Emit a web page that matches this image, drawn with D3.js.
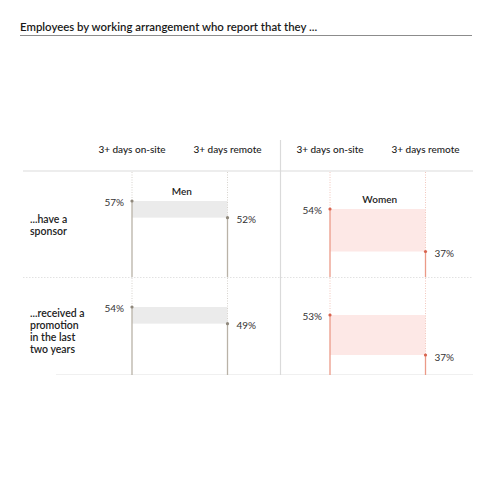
<!DOCTYPE html>
<html>
<head>
<meta charset="utf-8">
<script src="https://cdn.jsdelivr.net/npm/d3@7"></script>
<style>
  html, body { margin: 0; padding: 0; background: #fff; }
  svg { display: block; font-family: Lato, "Open Sans", sans-serif; }
</style>
</head>
<body>
<svg id="chart" width="500" height="500"></svg>
<script>
const title = "Employees by working arrangement who report that they ...";
const categories = ["sponsor", "promotion"];
const categoryLabels = [["...have a", "sponsor"], ["...received a", "promotion", "in the last", "two years"]];
const groups = ["Men", "Women"];
const arrangements = ["3+ days on-site", "3+ days remote"];
const menOnSite = [57, 54];
const menRemote = [52, 49];
const womenOnSite = [54, 53];
const womenRemote = [37, 37];

const values = { Men: [menOnSite, menRemote], Women: [womenOnSite, womenRemote] };
const style = {
  Men:   { line: "#b9b2a7", dot: "#8f887c", dotted: "#d6d2cc", fill: "#ebebeb", px: 3.33, off: 30 },
  Women: { line: "#eb9a88", dot: "#d8644f", dotted: "#f2c6bc", fill: "#fde8e6", px: 2.5,  off: 38 }
};

const svg = d3.select("#chart");

// title
svg.append("text").attr("x", 20).attr("y", 31)
  .attr("font-size", 11.4).attr("font-weight", 600).attr("fill", "#1a1a1a").text(title);
svg.append("line").attr("x1", 20).attr("x2", 472).attr("y1", 35.5).attr("y2", 35.5)
  .attr("stroke", "#8c8c8c").attr("stroke-width", 1);

// scales
const gx = d3.scalePoint().domain(groups).range([132, 330]);
const ax = d3.scalePoint().domain(arrangements).range([0, 95.5]);
const rowTop = d3.scaleOrdinal().domain(categories).range([171, 277]);
const rowBottom = d3.scaleOrdinal().domain(categories).range([277, 375]);

// grid
svg.append("line").attr("x1", 23).attr("x2", 473).attr("y1", 171).attr("y2", 171)
  .attr("stroke", "#dcdcdc").attr("stroke-width", 1.2);
svg.append("line").attr("x1", 23).attr("x2", 473).attr("y1", rowBottom(categories[0]) + 0.5).attr("y2", rowBottom(categories[0]) + 0.5)
  .attr("stroke", "#e2e2e2").attr("stroke-dasharray", "1.5,1.5");
svg.append("line").attr("x1", 56).attr("x2", 473).attr("y1", rowBottom(categories[1]) - 0.5).attr("y2", rowBottom(categories[1]) - 0.5)
  .attr("stroke", "#f0f0f0");
svg.append("line").attr("x1", 280.5).attr("x2", 280.5).attr("y1", 140).attr("y2", 375)
  .attr("stroke", "#dadada").attr("stroke-width", 1.2);

// headers
groups.forEach(g => {
  arrangements.forEach(a => {
    svg.append("text").attr("x", gx(g) + ax(a)).attr("y", 152.5)
      .attr("text-anchor", "middle").attr("font-size", 10).attr("font-weight", 500)
      .attr("fill", "#222").text(a);
  });
});

// row labels
categories.forEach((c, i) => {
  const lines = categoryLabels[i];
  const t = svg.append("text").attr("x", 30).attr("font-size", 10.5).attr("font-weight", 600).attr("fill", "#222");
  const y0 = i === 0 ? 223 : 317;
  lines.forEach((l, j) => t.append("tspan").attr("x", 30).attr("y", y0 + j * 12).text(l));
});

// panels
categories.forEach((c, i) => {
  groups.forEach(g => {
    const s = style[g];
    const vOn = values[g][0][i], vRe = values[g][1][i];
    const top = rowTop(c), bot = rowBottom(c);
    const y = d3.scaleLinear().domain([vOn, vOn - 1]).range([top + s.off, top + s.off + s.px]);
    const x0 = gx(g) + ax(arrangements[0]);
    const x1 = gx(g) + ax(arrangements[1]);
    // band
    svg.append("rect").attr("x", x0).attr("y", y(vOn)).attr("width", x1 - x0).attr("height", y(vRe) - y(vOn))
      .attr("fill", s.fill);
    [[x0, vOn], [x1, vRe]].forEach(([x, v]) => {
      svg.append("line").attr("x1", x).attr("x2", x).attr("y1", top + 1).attr("y2", y(v))
        .attr("stroke", s.dotted).attr("stroke-dasharray", "1,1.5");
      svg.append("line").attr("x1", x).attr("x2", x).attr("y1", y(v)).attr("y2", bot)
        .attr("stroke", s.line).attr("stroke-width", 1.3);
      svg.append("circle").attr("cx", x).attr("cy", y(v)).attr("r", 1.6).attr("fill", s.dot);
    });
    svg.append("text").attr("x", x0 - 8).attr("y", y(vOn) + 4.5).attr("text-anchor", "end")
      .attr("font-size", 10).attr("fill", "#333").text(vOn + "%");
    svg.append("text").attr("x", x1 + 9).attr("y", y(vRe) + 5.5).attr("text-anchor", "start")
      .attr("font-size", 10).attr("fill", "#333").text(vRe + "%");
    if (i === 0) {
      svg.append("text").attr("x", (x0 + x1) / 2 + 2).attr("y", y(vOn) - 6)
        .attr("text-anchor", "middle").attr("font-size", 10).attr("font-weight", 600)
        .attr("fill", "#222").text(g);
    }
  });
});
</script>
</body>
</html>
